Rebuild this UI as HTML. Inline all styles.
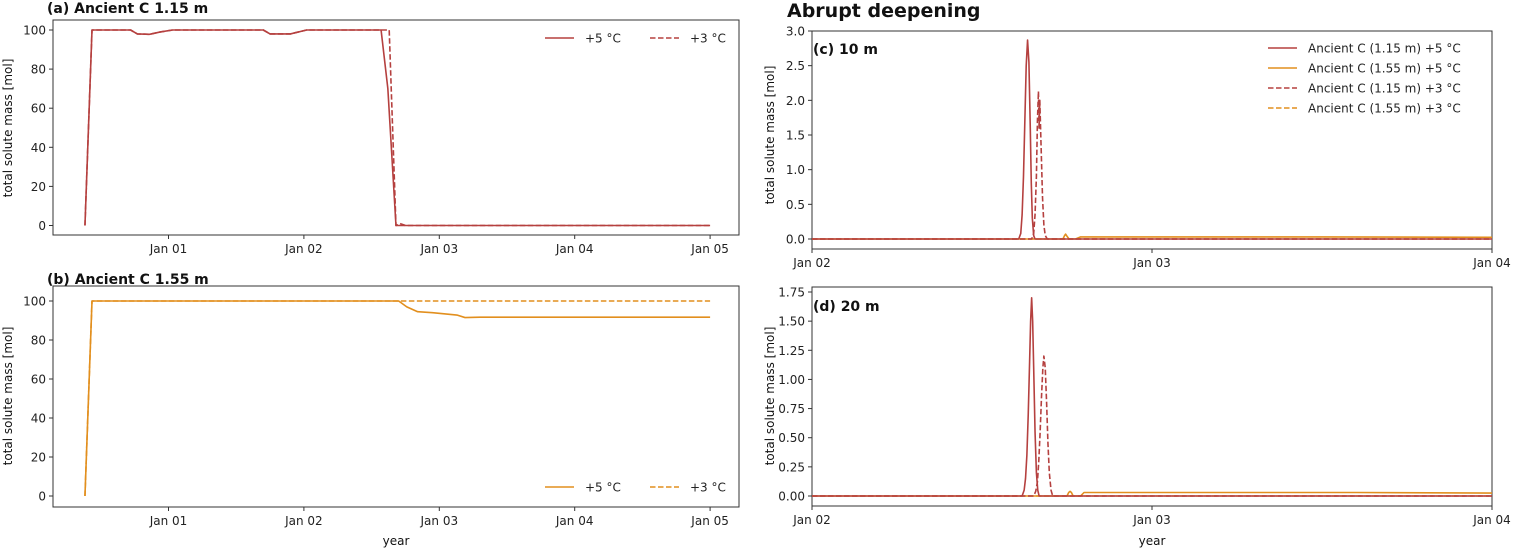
<!DOCTYPE html>
<html><head><meta charset="utf-8"><style>
body{margin:0;background:#fff;}
svg{display:block;font-family:"DejaVu Sans","Liberation Sans",sans-serif;}
</style></head><body>
<svg id="fig" width="1513" height="548" viewBox="0 0 1513 548"></svg>
<script>
// ---- data (times in days, Jan 01 = 1) ----
const aTimes5 = [0.383,0.435,0.72,0.77,0.86,0.94,1.03,1.70,1.75,1.90,2.02,2.57,2.62,2.68,5.0];
const aVals5  = [0,100,100,98,97.8,99,100,100,98,98,100,100,70,0,0];
const aTimes3 = [0.383,0.435,0.72,0.77,0.86,0.94,1.03,1.70,1.75,1.90,2.02,2.63,2.68,2.71,2.75,5.0];
const aVals3  = [0,100,100,98,97.8,99,100,100,98,98,100,100,0,1,0,0];
const bTimes5 = [0.383,0.435,2.70,2.76,2.84,2.95,3.13,3.19,3.30,5.0];
const bVals5  = [0,100,100,97,94.5,94,92.8,91.5,91.7,91.7];
const bTimes3 = [0.383,0.435,5.0];
const bVals3  = [0,100,100];
const cTimesR5 = [2.0,2.608,2.614,2.618,2.622,2.626,2.630,2.634,2.638,2.642,2.645,2.648,2.652,2.656,4.0];
const cValsR5  = [0,0,0.08,0.35,0.9,1.7,2.5,2.87,2.55,1.6,0.8,0.3,0.05,0,0];
const cTimesR3 = [2.0,2.646,2.652,2.656,2.660,2.663,2.666,2.668,2.670,2.674,2.678,2.682,2.686,2.692,4.0];
const cValsR3  = [0,0,0.08,0.35,0.9,1.7,2.13,1.6,2.0,1.3,0.6,0.2,0.05,0,0];
const cTimesO5 = [2.0,2.738,2.743,2.746,2.750,2.756,2.775,2.790,3.5,4.0];
const cValsO5  = [0,0,0.05,0.07,0.04,0,0,0.03,0.03,0.025];
const cTimesO3 = [2.0,4.0];
const cValsO3  = [0,0];
const dTimesR5 = [2.0,2.618,2.624,2.628,2.632,2.636,2.640,2.643,2.646,2.649,2.652,2.656,2.660,2.664,2.668,4.0];
const dValsR5  = [0,0,0.05,0.15,0.35,0.7,1.15,1.5,1.70,1.5,1.1,0.55,0.2,0.05,0,0];
const dTimesR3 = [2.0,2.652,2.658,2.663,2.667,2.671,2.675,2.679,2.682,2.686,2.690,2.694,2.698,2.703,2.708,4.0];
const dValsR3  = [0,0,0.04,0.12,0.3,0.55,0.85,1.1,1.20,1.1,0.8,0.45,0.2,0.05,0,0];
const dTimesO5 = [2.0,2.750,2.755,2.759,2.763,2.768,2.790,2.800,3.6,4.0];
const dValsO5  = [0,0,0.03,0.04,0.03,0,0,0.03,0.03,0.025];
const dTimesO3 = [2.0,4.0];
const dValsO3  = [0,0];
const leftTickVals = [1,2,3,4,5];
const leftTickLabels = ["Jan 01","Jan 02","Jan 03","Jan 04","Jan 05"];
const rightTickVals = [2,3,4];
const rightTickLabels = ["Jan 02","Jan 03","Jan 04"];
const abYTicks = [0,20,40,60,80,100];
const cYTicks = [0,0.5,1.0,1.5,2.0,2.5,3.0];
const dYTicks = [0,0.25,0.5,0.75,1.0,1.25,1.5,1.75];

const RED="#b5403f", ORA="#e28f1e";
const svg=document.getElementById('fig');
const NS="http://www.w3.org/2000/svg";
function el(tag,attrs,parent){const e=document.createElementNS(NS,tag);for(const k in attrs)e.setAttribute(k,attrs[k]);(parent||svg).appendChild(e);return e;}

function panel(name,box,xd,yd,xt,xl,yt,yfmt){
  const g=el('g',{});
  
  
  const sx=v=>box.x0+(v-xd[0])/(xd[1]-xd[0])*(box.x1-box.x0);
  const sy=v=>box.yb+(v-yd[0])/(yd[1]-yd[0])*(box.yt-box.yb);
  const r=el('rect',{x:box.L,y:box.T,width:box.R-box.L,height:box.B-box.T,fill:'none',stroke:'#333','stroke-width':1},g);
  
  
  xt.forEach((v,i)=>{
    el('line',{x1:sx(v),x2:sx(v),y1:box.B,y2:box.B+4,stroke:'#333'},g);
    const t=el('text',{x:sx(v),y:box.B+18,'text-anchor':'middle','font-size':12,fill:'#222'},g);
    t.textContent=xl[i];
    
    
  });
  yt.forEach(v=>{
    el('line',{x1:box.L-4,x2:box.L,y1:sy(v),y2:sy(v),stroke:'#333'},g);
    const t=el('text',{x:box.L-7,y:sy(v)+4.5,'text-anchor':'end','font-size':12,fill:'#222'},g);
    t.textContent=yfmt(v);
    
    
  });
  return {g,sx,sy};
}
function series(p,ts,vs,color,dash,name){
  const d=ts.map((t,i)=>(i?'L':'M')+p.sx(t).toFixed(2)+','+p.sy(vs[i]).toFixed(2)).join(' ');
  const a={d:d,fill:'none',stroke:color,'stroke-width':1.6,'stroke-linejoin':'round'};
  if(dash)a['stroke-dasharray']='5.5,2.5';
  const e=el('path',a,p.g);
  
  
}
function text(x,y,s,size,weight,name,anchor,rot){
  const a={x:x,y:y,'font-size':size,'font-weight':weight||'normal',fill:'#111'};
  if(anchor)a['text-anchor']=anchor;
  if(rot)a.transform='rotate(-90 '+x+' '+y+')';
  const t=el('text',a);t.textContent=s;
  
  
}
function legendRow(x,y,color,dash,label,name){
  const g=el('g',{});
  
  
  const a={x1:x,x2:x+29,y1:y,y2:y,stroke:color,'stroke-width':1.6};
  if(dash)a['stroke-dasharray']='5.5,2.5';
  el('line',a,g);
  const t=el('text',{x:x+40,y:y+4.5,'font-size':12,fill:'#222'},g);t.textContent=label;
}
const int=v=>String(v);
const f1=v=>v.toFixed(1);
const f2=v=>v.toFixed(2);

// panel a
const pa=panel('panel-a',{L:53,R:739,T:20,B:235,x0:168.5,x1:303.9,yb:225.5,yt:30},[1,2],[0,100],leftTickVals,leftTickLabels,abYTicks,int);
series(pa,aTimes3,aVals3,RED,true,'series-a-3c');
series(pa,aTimes5,aVals5,RED,false,'series-a-5c');
legendRow(545,38,RED,false,'+5 °C','legend-entry-a-5c');
legendRow(650,38,RED,true,'+3 °C','legend-entry-a-3c');
text(47,13,'(a) Ancient C 1.15 m',14,'bold','panel-a-title');
text(12,128,'total solute mass [mol]',12,'normal','y-axis-title-a','middle',true);

// panel b
const pb=panel('panel-b',{L:53,R:739,T:286,B:507,x0:168.5,x1:303.9,yb:496,yt:301},[1,2],[0,100],leftTickVals,leftTickLabels,abYTicks,int);
series(pb,bTimes3,bVals3,ORA,true,'series-b-3c');
series(pb,bTimes5,bVals5,ORA,false,'series-b-5c');
legendRow(545,487,ORA,false,'+5 °C','legend-entry-b-5c');
legendRow(650,487,ORA,true,'+3 °C','legend-entry-b-3c');
text(47,284,'(b) Ancient C 1.55 m',14,'bold','panel-b-title');
text(12,396,'total solute mass [mol]',12,'normal','y-axis-title-b','middle',true);
text(396,545,'year',12,'normal','x-axis-title-left','middle');

// panel c
const pc=panel('panel-c',{L:812,R:1492,T:31,B:249,x0:812,x1:1152,yb:239,yt:31},[2,3],[0,3],rightTickVals,rightTickLabels,cYTicks,f1);
series(pc,cTimesO3,cValsO3,ORA,true,'series-c-155-3c');
series(pc,cTimesO5,cValsO5,ORA,false,'series-c-155-5c');
series(pc,cTimesR3,cValsR3,RED,true,'series-c-115-3c');
series(pc,cTimesR5,cValsR5,RED,false,'series-c-115-5c');
text(813,54,'(c) 10 m',14,'bold','panel-c-title');
text(774,135,'total solute mass [mol]',12,'normal','y-axis-title-c','middle',true);
text(787,17,'Abrupt deepening',19,'bold','figure-title-right');
legendRow(1268,48,RED,false,'Ancient C (1.15 m) +5 °C','legend-entry-c-115-5c');
legendRow(1268,68,ORA,false,'Ancient C (1.55 m) +5 °C','legend-entry-c-155-5c');
legendRow(1268,88,RED,true,'Ancient C (1.15 m) +3 °C','legend-entry-c-115-3c');
legendRow(1268,108,ORA,true,'Ancient C (1.55 m) +3 °C','legend-entry-c-155-3c');

// panel d
const pd=panel('panel-d',{L:812,R:1492,T:287,B:506,x0:812,x1:1152,yb:496,yt:292},[2,3],[0,1.75],rightTickVals,rightTickLabels,dYTicks,f2);
series(pd,dTimesO3,dValsO3,ORA,true,'series-d-155-3c');
series(pd,dTimesO5,dValsO5,ORA,false,'series-d-155-5c');
series(pd,dTimesR3,dValsR3,RED,true,'series-d-115-3c');
series(pd,dTimesR5,dValsR5,RED,false,'series-d-115-5c');
text(813,311,'(d) 20 m',14,'bold','panel-d-title');
text(774,396,'total solute mass [mol]',12,'normal','y-axis-title-d','middle',true);
text(1152,545,'year',12,'normal','x-axis-title-right','middle');
</script>
</body></html>
